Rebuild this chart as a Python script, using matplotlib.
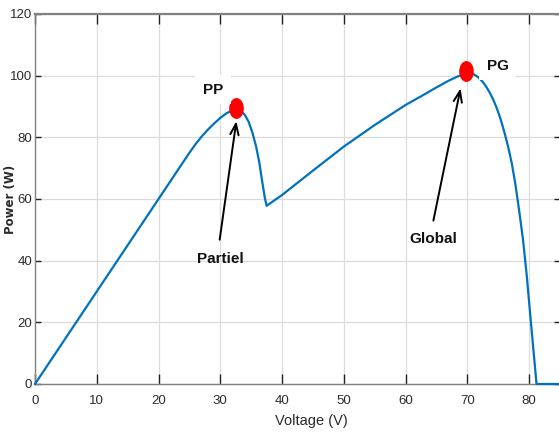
import matplotlib
matplotlib.use("Agg")
import matplotlib.pyplot as plt
from matplotlib.path import Path
from matplotlib.transforms import Affine2D

# ---- data ----
voltage = [0, 5, 10, 15, 20, 25, 26, 27, 28, 29, 30, 31, 32, 32.7, 33.3, 34,
           34.6, 35.2, 35.8, 36.3, 36.8, 37.2, 37.5,
           40, 45, 50, 55, 60, 62.5, 65, 67, 68.5, 69.5, 70.3, 71, 71.7, 72.4,
           73, 73.6, 74.2, 74.8, 75.4, 76, 76.6, 77.2, 77.8, 78.4, 79, 79.6,
           80.2, 80.7, 81.2, 85]
power = [0, 15, 30, 45, 60, 75, 77.8, 80.3, 82.5, 84.5, 86.3, 87.8, 88.8, 89.1,
         88.7, 87.2, 85, 81.5, 77, 72, 65.5, 60.5, 57.8,
         61.3, 69.2, 77, 84, 90.5, 93.3, 96.2, 98.4, 99.8, 100.5, 100.8, 100.5,
         99.6, 98.2, 96.6, 94.6, 92.2, 89.3, 85.8, 81.6, 77, 71.5, 64.5, 56, 47,
         35.5, 22, 11, 0, 0]

peak_labels = ["PP", "PG"]
peak_v = [32.5, 69.7]
peak_p = [89.6, 101.6]
peak_text_v = [28.8, 74.9]
peak_text_p = [95.5, 103.2]

arrow_labels = ["Partiel", "Global"]
arrow_text_v = [30.0, 64.5]
arrow_text_p = [40.5, 47.0]
arrow_tail_v = [29.9, 64.5]
arrow_tail_p = [46.8, 53.0]
arrow_tip_v = [32.6, 68.9]
arrow_tip_p = [85.3, 95.9]

xticks = [0, 10, 20, 30, 40, 50, 60, 70, 80]
yticks = [0, 20, 40, 60, 80, 100, 120]

sans = ["Liberation Sans", "DejaVu Sans"]

fig = plt.figure(figsize=(5.59, 4.32), dpi=100)
ax = fig.add_axes([35 / 559, 1 - 384 / 432, (560 - 35) / 559, (384 - 14) / 432])

ax.plot(voltage, power, color="#0072BD", lw=1.6, zorder=3, clip_on=False,
        solid_joinstyle="round")

ell = Path.unit_circle().transformed(Affine2D().scale(0.68, 1.0))
ax.plot(peak_v, peak_p, ls="none", marker=ell, ms=14, color="#FF0000",
        mec="#FF0000", zorder=4)

for lab, tv, tp in zip(peak_labels, peak_text_v, peak_text_p):
    ax.text(tv, tp, lab, ha="center", va="center", fontsize=11, fontweight="bold",
            family=sans, color="#111111", zorder=5,
            bbox=dict(boxstyle="square,pad=0.5", fc="white", ec="none"))

for lab, tv, tp, av, ap, hv, hp in zip(arrow_labels, arrow_text_v, arrow_text_p,
                                       arrow_tail_v, arrow_tail_p,
                                       arrow_tip_v, arrow_tip_p):
    ax.text(tv, tp, lab, ha="center", va="center", fontsize=11, fontweight="bold",
            family=sans, color="#111111", zorder=5)
    ax.annotate("", xy=(hv, hp), xytext=(av, ap),
                arrowprops=dict(arrowstyle="->,head_length=0.8,head_width=0.3",
                                color="black", lw=1.4, shrinkA=0, shrinkB=0),
                zorder=5)

ax.set_xlim(0, 85)
ax.set_ylim(0, 120)
ax.set_xticks(xticks)
ax.set_yticks(yticks)
ax.grid(True, color="#dcdcdc", lw=0.9)
ax.set_axisbelow(True)

for side in ["left", "bottom", "top", "right"]:
    ax.spines[side].set_color("#808080")
    ax.spines[side].set_linewidth(1.0)
ax.spines["top"].set_linewidth(1.6)

ax.tick_params(axis="x", direction="in", length=7, width=1, color="#222222",
               top=True, pad=8, labelsize=9.5, labelcolor="#2a2a2a")
ax.tick_params(axis="y", direction="in", length=4, width=1, color="#222222",
               right=True, pad=2, labelsize=9.5, labelcolor="#2a2a2a")
for lbl in ax.get_xticklabels() + ax.get_yticklabels():
    lbl.set_family(sans)

ax.set_xlabel("Voltage (V)", family=sans, fontsize=10.5, color="#2a2a2a")
ax.xaxis.set_label_coords((311 - 35) / (560 - 35), -(414 - 384) / 370)
ax.set_ylabel("Power (W)", family="DejaVu Sans", fontweight="bold", fontsize=8.5,
              color="#2a2a2a")
ax.yaxis.set_label_coords(-(35 - 17) / (560 - 35), 0.5)

fig.savefig("out.png", dpi=100)
